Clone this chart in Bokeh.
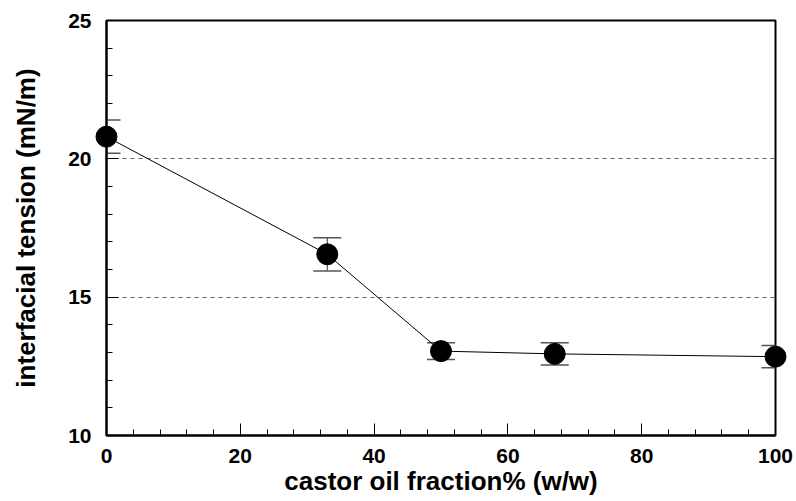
from bokeh.plotting import figure
from bokeh.models import (ColumnDataSource, Whisker, TeeHead, SingleIntervalTicker,
                          Range1d)
from bokeh.embed import file_html
from bokeh.resources import INLINE

# castor oil fraction (% w/w) and measured interfacial tension (mN/m)
fraction = [0, 33, 50, 67, 100]
tension = [20.8, 16.55, 13.05, 12.95, 12.85]
tension_err = [0.6, 0.6, 0.3, 0.4, 0.4]

x_ticks_major = 20
y_ticks_major = 5

src = ColumnDataSource(dict(
    x=fraction,
    y=tension,
    upper=[t + e for t, e in zip(tension, tension_err)],
    lower=[t - e for t, e in zip(tension, tension_err)],
))

p = figure(width=796, height=501, output_backend="svg", toolbar_location=None,
           x_range=Range1d(0, 100), y_range=Range1d(10, 25),
           min_border_left=106, min_border_right=21,
           min_border_top=20, min_border_bottom=66)

p.background_fill_color = "white"
p.border_fill_color = "white"
p.outline_line_color = "black"
p.outline_line_width = 2

font = "Liberation Sans"

for ax in (p.xaxis[0], p.yaxis[0]):
    ax.axis_line_width = 2
    ax.axis_line_color = "black"
    ax.major_tick_in = 12
    ax.major_tick_out = 0
    ax.minor_tick_in = 6
    ax.minor_tick_out = 0
    ax.major_tick_line_color = "black"
    ax.minor_tick_line_color = "black"
    ax.major_label_text_font = font
    ax.major_label_text_font_style = "bold"
    ax.major_label_text_font_size = "21px"
    ax.major_label_text_color = "black"
    ax.axis_label_text_font = font
    ax.axis_label_text_font_style = "bold"
    ax.axis_label_text_font_size = "26px"
    ax.axis_label_text_color = "black"

p.xaxis.ticker = SingleIntervalTicker(interval=x_ticks_major, num_minor_ticks=5)
p.yaxis.ticker = SingleIntervalTicker(interval=y_ticks_major, num_minor_ticks=5)
p.xaxis.axis_label = "castor oil fraction% (w/w)"
p.yaxis.axis_label = "interfacial tension (mN/m)"
p.xaxis.major_label_standoff = 13
p.xaxis.axis_label_standoff = 0
p.yaxis.major_label_standoff = 15
p.yaxis.axis_label_standoff = 24

p.xgrid.visible = False
p.ygrid.ticker = SingleIntervalTicker(interval=y_ticks_major)
p.ygrid.grid_line_color = "#666666"
p.ygrid.grid_line_dash = "4 4"
p.ygrid.grid_line_width = 1

# connecting line
p.line("x", "y", source=src, line_color="black", line_width=1)

# error bars
whisk = Whisker(source=src, base="x", upper="upper", lower="lower",
                line_color="#333333", line_width=1,
                upper_head=TeeHead(size=28, line_color="#555555", line_width=1.5),
                lower_head=TeeHead(size=28, line_color="#555555", line_width=1.5))
p.add_layout(whisk)

# data points (drawn on top so edge markers are not clipped)
pts = p.scatter("x", "y", source=src, size=21, fill_color="black",
                line_color="black")
pts.level = "overlay"

open("out.html", "w").write(file_html(p, INLINE))
